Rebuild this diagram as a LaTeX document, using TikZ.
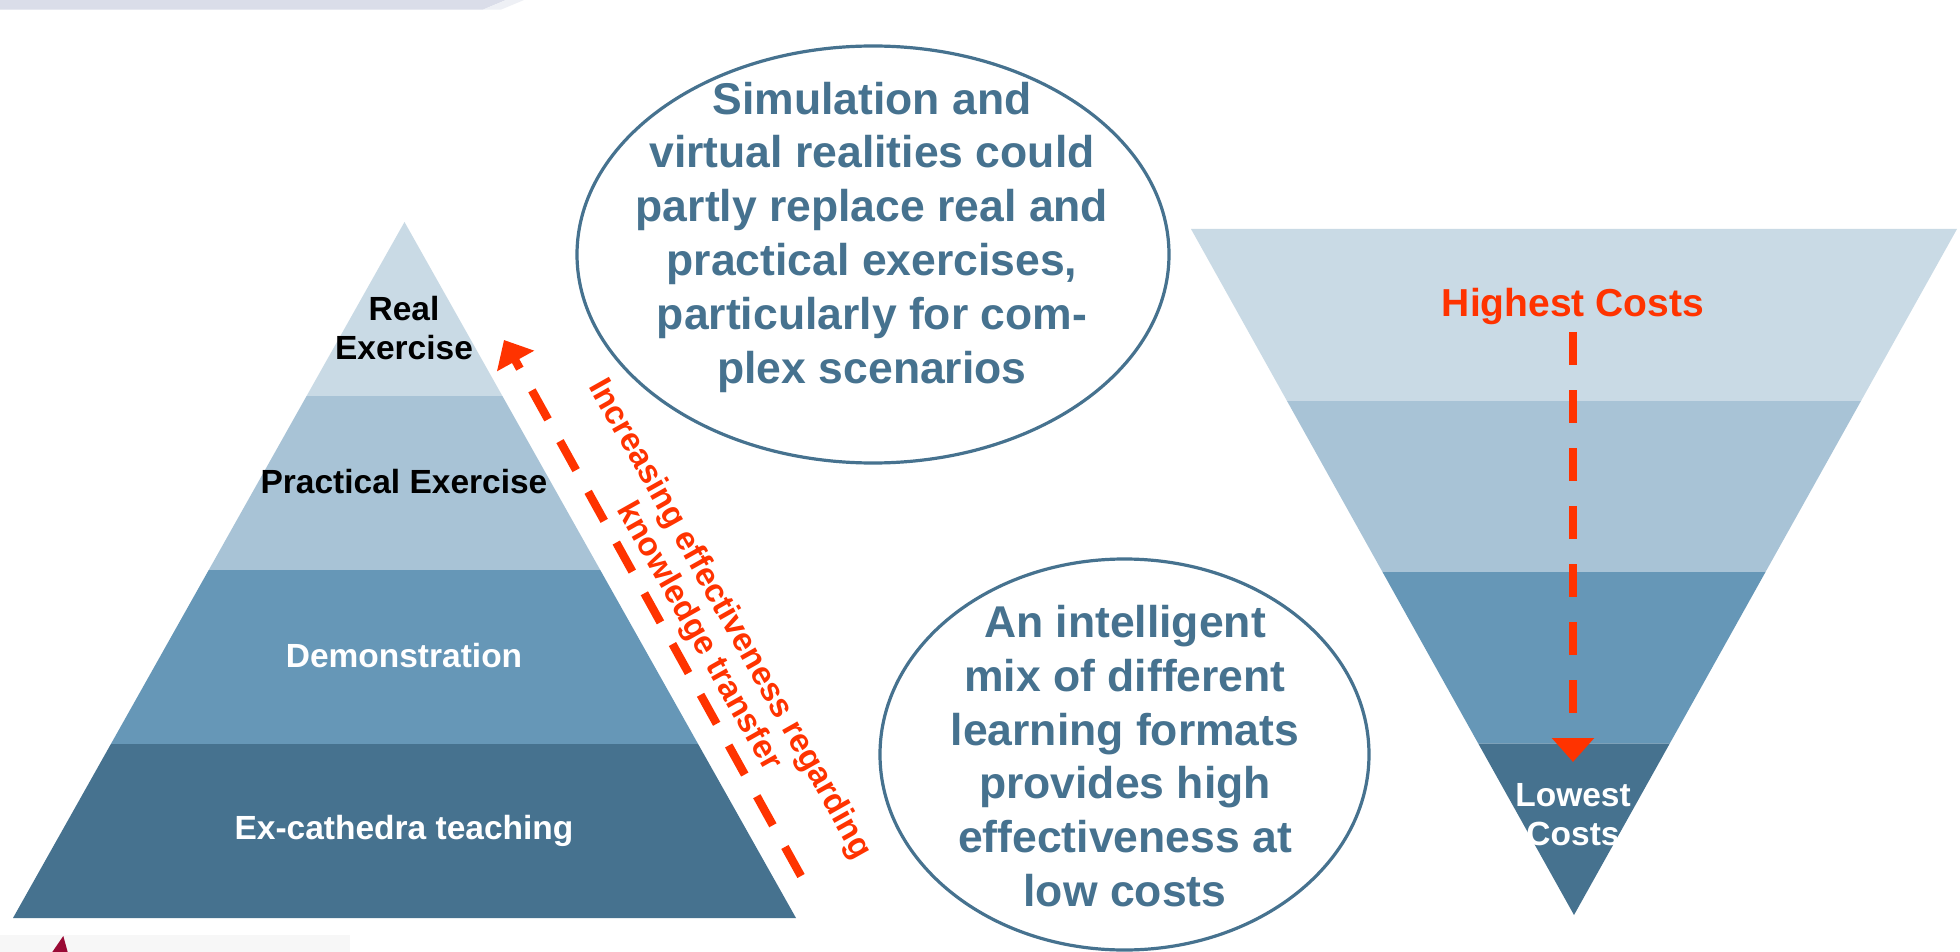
\documentclass[tikz,border=0pt]{standalone}
\usepackage{fontspec}
\setmainfont{Liberation Sans}
\usetikzlibrary{arrows.meta,shapes.geometric}
\definecolor{layA}{HTML}{C9DAE5}
\definecolor{layB}{HTML}{A8C3D6}
\definecolor{layC}{HTML}{6697B7}
\definecolor{layD}{HTML}{46728F}
\definecolor{accent}{HTML}{FF3300}
\definecolor{topband}{HTML}{DADDE9}
\definecolor{topfade}{HTML}{EEF0F5}
\definecolor{darkred}{HTML}{9A0A35}
\definecolor{paleband}{HTML}{F7F7F7}
\begin{document}
\begin{tikzpicture}[x=0.5pt,y=-0.5pt,
  dasharrow/.style={draw=accent, line width=4.15pt, dash pattern=on 16.6pt off 12.4pt,
    -{Triangle[width=20.5pt,length=12pt,fill=accent]}},
  levellabel/.style={font=\bfseries\fontsize{16.75}{19.75}\selectfont, align=center, inner sep=0pt},
  bubble/.style={ellipse, draw=layD, line width=1.6pt, fill=white, inner sep=0pt},
  bubbletext/.style={font=\bfseries\fontsize{22.25}{26.9}\selectfont, text=layD, align=center, inner sep=0pt},
  redtext/.style={font=\bfseries\fontsize{16.5}{17.75}\selectfont, text=accent, align=center, inner sep=0pt}]
\useasboundingbox (0,0) rectangle (1960,952);
\fill[white] (0,0) rectangle (1960,952);

% decorative bands
\fill[topband] (0,0) -- (506,0) -- (483,9.6) -- (0,9.6) -- cycle;
\fill[topfade] (506,0) -- (524,0) -- (501,9.6) -- (483,9.6) -- cycle;
\fill[paleband] (0,935) rectangle (350,952);
\fill[darkred] (52.3,952) -- (63.3,936) -- (67.7,952) -- cycle;

% left pyramid
\fill[layA] (404.5,222) -- (502.4,396) -- (306.6,396) -- cycle;
\fill[layB] (306.6,396) -- (502.4,396) -- (600.25,570) -- (208.75,570) -- cycle;
\fill[layC] (208.75,570) -- (600.25,570) -- (698.1,744) -- (110.9,744) -- cycle;
\fill[layD] (110.9,744) -- (698.1,744) -- (796,918) -- (13,918) -- cycle;

\node[levellabel] (real) at (404,328) {Real\\Exercise};
\node[levellabel] (practical) at (404,482) {Practical Exercise};
\node[levellabel, text=white] (demo) at (404,656) {Demonstration};
\node[levellabel, text=white] (excat) at (404,831) {Ex-cathedra teaching};

% right inverted pyramid
\fill[layA] (1191,229) -- (1957,229) -- (1861.25,400.5) -- (1286.75,400.5) -- cycle;
\fill[layB] (1286.75,400.5) -- (1861.25,400.5) -- (1765.5,572) -- (1382.5,572) -- cycle;
\fill[layC] (1382.5,572) -- (1765.5,572) -- (1669.75,743.5) -- (1478.25,743.5) -- cycle;
\fill[layD] (1478.25,743.5) -- (1669.75,743.5) -- (1574,915) -- cycle;

\node[font=\bfseries\fontsize{19.5}{23}\selectfont, text=accent, inner sep=0pt] (highest) at (1573,307) {Highest Costs};
\node[levellabel, text=white, font=\bfseries\fontsize{16.75}{19.5}\selectfont] (lowest) at (1573,815) {Lowest\\Costs};

\coordinate (costTop) at (1573,332);
\coordinate (costTip) at (1573,762);
\draw[dasharrow] (costTop) -- (costTip);

% effectiveness arrow
\coordinate (effTail) at (801,876);
\coordinate (effTip) at (504,340);
\draw[dasharrow] (effTail) -- (effTip);
\node[redtext, rotate=-60.6] (efftext) at (714,628) {Increasing effectiveness regarding\\knowledge transfer};

% bubbles
\node[bubble, minimum width=296pt, minimum height=208.5pt] (simBubble) at (873,254.5) {};
\node[bubbletext] (simText) at (872,237) {Simulation and\\virtual realities could\\partly replace real and\\practical exercises,\\particularly for com-\\plex scenarios};

\node[bubble, minimum width=244.5pt, minimum height=195.5pt] (mixBubble) at (1124.5,754.5) {};
\node[bubbletext] (mixText) at (1125,756) {An intelligent\\mix of different\\learning formats\\provides high\\effectiveness at\\low costs};
\end{tikzpicture}
\end{document}
